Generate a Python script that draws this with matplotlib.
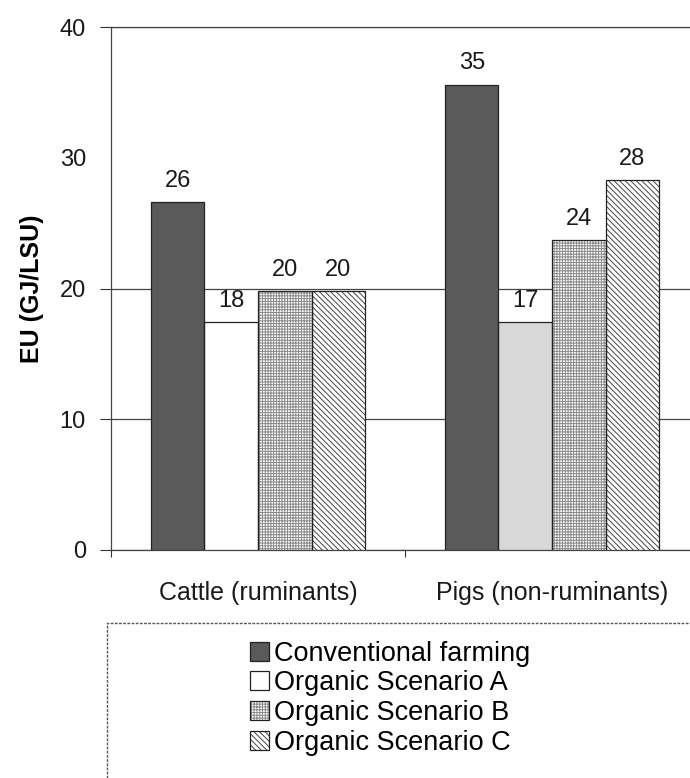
import numpy as np
import matplotlib
matplotlib.use('Agg')
import matplotlib.pyplot as plt
from matplotlib.patches import Rectangle

plt.rcParams['font.family'] = ['Liberation Sans', 'DejaVu Sans']
plt.rcParams['hatch.linewidth'] = 0.7

categories = ['Cattle (ruminants)', 'Pigs (non-ruminants)']
series = ['Conventional farming', 'Organic Scenario A', 'Organic Scenario B', 'Organic Scenario C']
conventional = [26.6, 35.6]
scenario_a = [17.4, 17.4]
scenario_b = [19.8, 23.7]
scenario_c = [19.8, 28.3]
value_labels = [['26', '35'], ['18', '17'], ['20', '24'], ['20', '28']]

values = [conventional, scenario_a, scenario_b, scenario_c]
# scenario A is white for cattle but light grey for pigs in the original
facecolors = [['#5a5a5a', '#5a5a5a'], ['white', '#d8d8d8'], ['white', 'white'], ['white', 'white']]
hatches = [None, None, '++++++', '\\\\\\\\\\\\']
hatch_colors = ['#222222', '#222222', '#8a8a8a', '#444444']

fig = plt.figure(figsize=(6.9, 7.78), dpi=100)
ax = fig.add_axes([111 / 690, 1 - 550 / 778, (699 - 111) / 690, (550 - 27) / 778])

x = np.arange(len(categories))
width = 0.182
handles = []
for i, vals in enumerate(values):
    pos = x + (i - 1.5) * width
    # fill + hatch first (hatch takes the edge colour), then a dark outline on top
    fill = ax.bar(pos, vals, width, color=facecolors[i], edgecolor=hatch_colors[i],
                  linewidth=0, hatch=hatches[i], zorder=3)
    bars = ax.bar(pos, vals, width, facecolor='none', edgecolor='#222222',
                  linewidth=0.9, zorder=3.5)
    handles.append((fill[0], bars[0]))
    for b, lab in zip(bars, value_labels[i]):
        ax.text(b.get_x() + b.get_width() / 2, b.get_height() + 0.8, lab,
                ha='center', va='bottom', fontsize=17, color='#1a1a1a', zorder=4)

ax.set_xlim(-0.5, 1.5)
ax.set_ylim(0, 40)
ax.set_yticks([0, 10, 20, 30, 40])
ax.tick_params(axis='y', labelsize=17, direction='out', length=8, pad=10,
               colors='#333333', labelcolor='#1a1a1a')
ax.grid(axis='y', color='#444444', linewidth=0.9, zorder=0)
ax.yaxis.get_gridlines()[3].set_visible(False)
ax.yaxis.get_major_ticks()[3].tick1line.set_visible(False)

ax.set_xticks([-0.5, 0.5, 1.5])
ax.set_xticklabels([])
ax.set_xticks(x, minor=True)
ax.set_xticklabels(categories, minor=True)
ax.tick_params(axis='x', which='major', length=5, direction='out', colors='#333333')
ax.tick_params(axis='x', which='minor', length=0, pad=22, labelsize=18, labelcolor='#1a1a1a')

for side in ['left', 'top', 'bottom', 'right']:
    ax.spines[side].set_color('#444444')
    ax.spines[side].set_linewidth(0.9)

ax.set_ylabel('EU (GJ/LSU)', fontsize=18, fontweight='bold', labelpad=11)

# legend box running off the bottom/right edge as in the source figure
fig.patches.append(Rectangle((107 / 690, -0.05), 0.95, (778 - 623) / 778 + 0.05,
                             transform=fig.transFigure, facecolor='white',
                             edgecolor='#555555', linewidth=1.0, linestyle=(0, (2, 1))))
fig.legend(handles, series, loc='upper left', bbox_to_anchor=(236 / 690, 1 - 627 / 778),
           frameon=False, fontsize=19.5, handlelength=0.7, handleheight=0.7,
           handletextpad=0.2, labelspacing=0.14, borderpad=0)

fig.savefig('out.png', dpi=100)
